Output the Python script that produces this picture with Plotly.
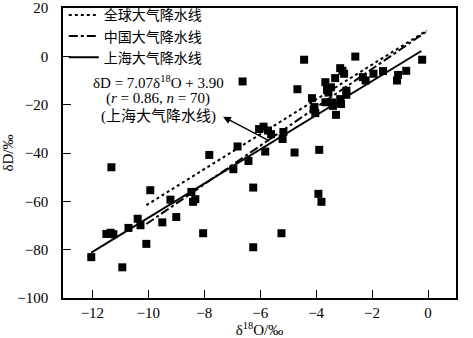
import plotly.graph_objects as go

# Observed data (δ18O, δD)
d18O = [-12.04, -10.93, -11.32, -11.5, -11.35, -11.25, -10.71, -10.38, -10.28, -10.07,
        -9.93, -9.50, -9.21, -9.0, -8.46, -8.40, -8.32, -8.04, -7.82, -6.96,
        -6.81, -6.42, -6.25, -6.25, -6.04, -5.88, -5.72, -5.61, -5.82, -5.24,
        -5.2, -5.17, -4.77, -4.06, -4.03, -3.89, -3.92, -3.81, -6.63, -4.43,
        -4.67, -4.15, -3.67, -3.61, -3.67, -2.60, -0.21, -0.78, -1.07, -1.11,
        -1.61, -1.95, -2.33, -2.23, -3.14, -3.06, -3.0, -3.32, -3.47, -3.56,
        -2.92, -2.92, -3.43, -3.40, -3.14, -3.11, -3.29, -4.09]
dD = [-83.1, -87.3, -45.9, -73.5, -73.0, -73.6, -71.0, -67.2, -69.9, -77.6,
      -55.4, -68.7, -59.3, -66.5, -56.1, -60.2, -59.1, -73.2, -40.8, -46.7,
      -37.3, -43.3, -54.3, -79.0, -30.1, -29.1, -30.7, -32.2, -39.4, -73.2,
      -34.2, -31.3, -39.8, -21.0, -23.5, -38.7, -56.9, -60.2, -10.4, -1.4,
      -13.6, -17.3, -10.7, -13.9, -19.0, -0.1, -1.4, -6.0, -7.7, -10.0,
      -6.1, -7.2, -8.6, -10.0, -4.9, -6.0, -7.2, -9.0, -12.8, -15.0,
      -14.2, -15.9, -19.1, -20.5, -17.7, -19.7, -24.2, -22.0]

# Reference lines (endpoints)
gmwl_x = [-10.07, -0.04]
gmwl_y = [-61.6, 10.7]
cmwl_x = [-10.07, 0.0]
cmwl_y = [-69.4, 10.7]
slope, intercept = 7.07, 3.90
lmwl_x = [-12.04, -0.24]
lmwl_y = [slope * v + intercept for v in lmwl_x]

legend_names = ["全球大气降水线", "中国大气降水线", "上海大气降水线"]
eq_lines = ["δD = 7.07δ<sup>18</sup>O + 3.90",
            "(<i>r</i> = 0.86, <i>n</i> = 70)",
            "(上海大气降水线)"]
eq_y = [-10.6, -17.4, -25.0]

serif = "Liberation Serif, Noto Sans CJK SC, serif"

fig = go.Figure()
fig.add_trace(go.Scatter(x=gmwl_x, y=gmwl_y, mode="lines", name=legend_names[0],
                         line=dict(color="black", width=2, dash="dot")))
fig.add_trace(go.Scatter(x=cmwl_x, y=cmwl_y, mode="lines", name=legend_names[1],
                         line=dict(color="black", width=2, dash="dashdot")))
fig.add_trace(go.Scatter(x=lmwl_x, y=lmwl_y, mode="lines", name=legend_names[2],
                         line=dict(color="black", width=2)))
fig.add_trace(go.Scatter(x=d18O, y=dD, mode="markers", showlegend=False,
                         marker=dict(symbol="square", size=8, color="black")))

fig.add_annotation(x=-7.33, y=-25.0, ax=-5.62, ay=-35.3, axref="x", ayref="y",
                   xref="x", yref="y", text="", showarrow=True,
                   arrowhead=2, arrowsize=1.2, arrowwidth=1.3, arrowcolor="black")
for txt, yy in zip(eq_lines, eq_y):
    fig.add_annotation(x=-9.65, y=yy, xref="x", yref="y", showarrow=False,
                       text=txt, align="center",
                       font=dict(family=serif, size=15, color="black"))

axis_common = dict(showgrid=False, zeroline=False, showline=True, linecolor="black",
                   linewidth=1.5, mirror=True, ticks="inside", ticklen=8,
                   tickcolor="black", tickwidth=1.2,
                   tickfont=dict(family=serif, size=15, color="black"))

fig.update_xaxes(range=[-13.05, 1.0], tickvals=[-12, -10, -8, -6, -4, -2, 0],
                 title=dict(text="δ<sup>18</sup>O/‰", font=dict(family=serif, size=15, color="black"), standoff=7),
                 ticklabelstandoff=0, **axis_common)
fig.update_yaxes(range=[-100, 20], tickvals=[-100, -80, -60, -40, -20, 0, 20],
                 title=dict(text="δD/‰", font=dict(family=serif, size=15, color="black"), standoff=4),
                 ticklabelstandoff=10, **axis_common)

fig.update_layout(
    width=473, height=338,
    margin=dict(l=63, r=17, t=8, b=40, autoexpand=False),
    plot_bgcolor="white", paper_bgcolor="white",
    font=dict(family=serif, size=15, color="black"),
    legend=dict(x=0.002, y=1.03, xanchor="left", yanchor="top", bgcolor="rgba(0,0,0,0)",
                itemwidth=30, tracegroupgap=0, font=dict(family=serif, size=14, color="black")),
)

fig.write_html("out.html")
